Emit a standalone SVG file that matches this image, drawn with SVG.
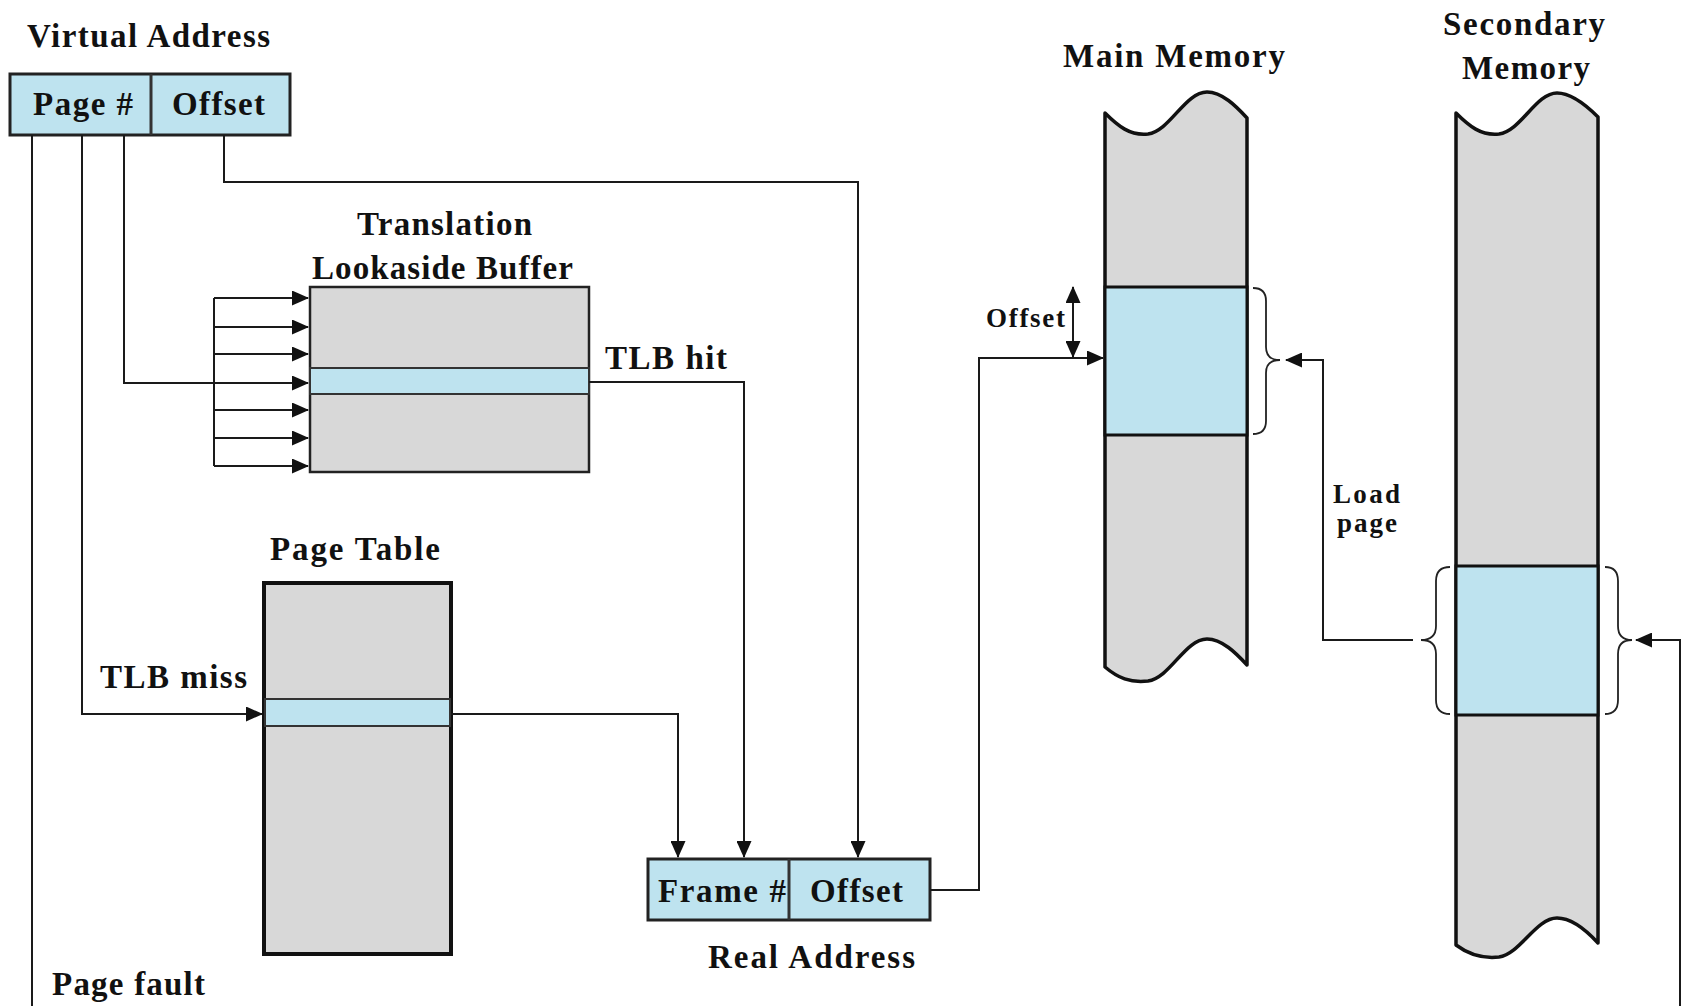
<svg xmlns="http://www.w3.org/2000/svg" width="1684" height="1006" viewBox="0 0 1684 1006">
<style>
text{font-family:"Liberation Serif","Times New Roman",serif;font-weight:bold;fill:#111}
.lg{font-size:33px}
.sm{font-size:27px}
.ln{fill:none;stroke:#1a1a1a;stroke-width:2}
.blue{fill:#bee3ef}
.gray{fill:#d8d8d8}
.box{stroke:#222;stroke-width:3}
.brace{fill:none;stroke:#222;stroke-width:1.8}
</style>
<defs>
<marker id="ah" markerUnits="userSpaceOnUse" markerWidth="17" markerHeight="15" refX="16" refY="7.5" orient="auto-start-reverse">
<path d="M0,0 L17,7.5 L0,15 Z" fill="#111"/>
</marker>
</defs>

<g id="virtual-address">
<text class="lg" x="27" y="47" textLength="243" lengthAdjust="spacing">Virtual Address</text>
<rect x="10" y="74" width="280" height="61" class="blue box"/>
<line x1="151" y1="74" x2="151" y2="135" stroke="#333" stroke-width="3"/>
<text class="lg" x="33" y="115" textLength="100" lengthAdjust="spacing">Page #</text>
<text class="lg" x="172" y="115" textLength="93" lengthAdjust="spacing">Offset</text>
</g>

<g id="tlb">
<text class="lg" x="357" y="235" textLength="175" lengthAdjust="spacing">Translation</text>
<text class="lg" x="312" y="279" textLength="261" lengthAdjust="spacing">Lookaside Buffer</text>
<rect x="310" y="287" width="279" height="185" class="gray" stroke="#222" stroke-width="2.5"/>
<rect x="310" y="368" width="279" height="26" class="blue" stroke="#333" stroke-width="2"/>
</g>

<g id="page-table">
<text class="lg" x="270" y="560" textLength="170" lengthAdjust="spacing">Page Table</text>
<rect x="264" y="583" width="187" height="371" class="gray" stroke="#111" stroke-width="4"/>
<rect x="265" y="699" width="185" height="27" class="blue" stroke="#333" stroke-width="2"/>
</g>

<g id="real-address">
<rect x="648" y="859" width="282" height="61" class="blue box"/>
<line x1="789" y1="859" x2="789" y2="920" stroke="#333" stroke-width="3"/>
<text class="lg" x="658" y="902" textLength="128" lengthAdjust="spacing">Frame #</text>
<text class="lg" x="810" y="902" textLength="93" lengthAdjust="spacing">Offset</text>
<text class="lg" x="708" y="968" textLength="207" lengthAdjust="spacing">Real Address</text>
</g>

<g id="main-memory">
<text class="lg" x="1063" y="67" textLength="222" lengthAdjust="spacing">Main Memory</text>
<path d="M1105,113 C1118,126 1130,136 1148,134 C1170,131 1185,92 1207,92 C1222,92 1236,106 1247,118 L1247,665 C1236,653 1222,639 1207,639 C1185,639 1170,678 1148,681 C1130,683 1118,678 1105,667 Z" class="gray" stroke="#111" stroke-width="3.5" stroke-linejoin="round"/>
<rect x="1105" y="287" width="142" height="148" class="blue" stroke="#111" stroke-width="3"/>
<path class="brace" d="M1253,288 Q1266,288 1266,301 L1266,347 Q1266,360 1280,360 Q1266,360 1266,373 L1266,421 Q1266,434 1253,434"/>
<text class="sm" x="986" y="327" textLength="79" lengthAdjust="spacing">Offset</text>
</g>

<g id="secondary-memory">
<text class="lg" x="1443" y="35" textLength="162" lengthAdjust="spacing">Secondary</text>
<text class="lg" x="1462" y="79" textLength="128" lengthAdjust="spacing">Memory</text>
<path d="M1456,113 C1469,126 1481,136 1499,134 C1521,131 1536,93 1557,93 C1572,93 1587,106 1598,117 L1598,943 C1587,931 1572,918 1557,918 C1536,918 1520,954 1499,957 C1481,959 1468,954 1456,945 Z" class="gray" stroke="#111" stroke-width="3.5" stroke-linejoin="round"/>
<rect x="1456" y="566" width="142" height="149" class="blue" stroke="#111" stroke-width="3"/>
<path class="brace" d="M1450,567 Q1436,567 1436,581 L1436,626 Q1436,640 1421,640 Q1436,640 1436,654 L1436,700 Q1436,714 1450,714"/>
<path class="brace" d="M1605,567 Q1618,567 1618,581 L1618,626 Q1618,640 1632,640 Q1618,640 1618,654 L1618,700 Q1618,714 1605,714"/>
<text class="sm" x="1333" y="503" textLength="67" lengthAdjust="spacing">Load</text>
<text class="sm" x="1337" y="532" textLength="60" lengthAdjust="spacing">page</text>
</g>

<g id="connectors">
<polyline class="ln" points="124,135 124,383 308,383" marker-end="url(#ah)"/>
<polyline class="ln" points="214,298 214,466"/>
<line class="ln" x1="214" y1="298" x2="308" y2="298" marker-end="url(#ah)"/>
<line class="ln" x1="214" y1="327" x2="308" y2="327" marker-end="url(#ah)"/>
<line class="ln" x1="214" y1="354" x2="308" y2="354" marker-end="url(#ah)"/>
<line class="ln" x1="214" y1="410" x2="308" y2="410" marker-end="url(#ah)"/>
<line class="ln" x1="214" y1="438" x2="308" y2="438" marker-end="url(#ah)"/>
<line class="ln" x1="214" y1="466" x2="308" y2="466" marker-end="url(#ah)"/>
<polyline class="ln" points="82,135 82,714 262,714" marker-end="url(#ah)"/>
<polyline class="ln" points="32,135 32,1006"/>
<text class="lg" x="100" y="688" textLength="147" lengthAdjust="spacing">TLB miss</text>
<text class="lg" x="52" y="995" textLength="153" lengthAdjust="spacing">Page fault</text>
<polyline class="ln" points="224,135 224,182 858,182 858,857" marker-end="url(#ah)"/>
<polyline class="ln" points="589,382 744,382 744,857" marker-end="url(#ah)"/>
<text class="lg" x="605" y="369" textLength="122" lengthAdjust="spacing">TLB hit</text>
<polyline class="ln" points="451,714 678,714 678,857" marker-end="url(#ah)"/>
<polyline class="ln" points="930,890 979,890 979,358 1103,358" marker-end="url(#ah)"/>
<line class="ln" x1="1073" y1="287" x2="1073" y2="357" marker-start="url(#ah)" marker-end="url(#ah)"/>
<polyline class="ln" points="1413,640 1323,640 1323,360 1286,360" marker-end="url(#ah)"/>
<polyline class="ln" points="1680,1006 1680,640 1636,640" marker-end="url(#ah)"/>
</g>
</svg>
